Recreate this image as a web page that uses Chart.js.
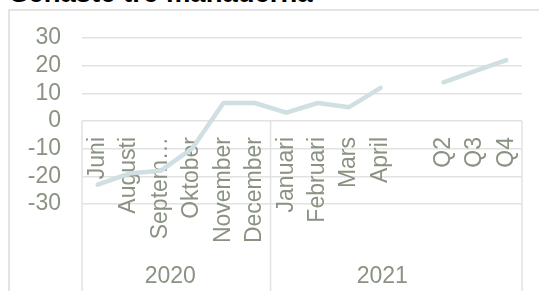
<!DOCTYPE html>
<html>
<head>
<meta charset="utf-8">
<script src="https://cdn.jsdelivr.net/npm/chart.js@4.4.1/dist/chart.umd.min.js"></script>
<style>
  html, body { margin: 0; padding: 0; background: #fff; }
  body { width: 539px; height: 291px; overflow: hidden; position: relative; }
  #frame { position: absolute; left: 8px; top: 9px; width: 700px; height: 400px; border: 2px solid #e4e4e4; }
  #title { position: absolute; left: 10px; top: -21px; font: bold 27.5px 'Liberation Sans', Arial, sans-serif; line-height: 27px; color: #000; white-space: nowrap; }
  #wrap { position: absolute; left: 0; top: 0; width: 539px; height: 291px; }
</style>
</head>
<body>
<div id="frame"></div>
<div id="title">Senaste tre månaderna</div>
<div id="wrap"><canvas id="chart" width="539" height="291"></canvas></div>
<script>
// categories (empty slot between April and Q2 keeps the gap in the line)
var months = ['Juni', 'Augusti', 'Septem…', 'Oktober', 'November', 'December',
              'Januari', 'Februari', 'Mars', 'April', '', 'Q2', 'Q3', 'Q4'];
var values = [-23, -19, -18, -10, 6.5, 6.5, 3, 6.5, 5, 12, null, 14, 18, 22];
var years = ['2020', '2021'];
var yearSizes = [6, 8];
var yTicks = [30, 20, 10, 0, -10, -20, -30];

var textColor = '#8a9382';
var gridColor = '#e2e2e2';
var fontFamily = "'Liberation Sans', Arial, sans-serif";

// draws the year groups under the axis with their separator lines
var yearGroups = {
    id: 'yearGroups',
    afterDraw: function(chart) {
        var ctx = chart.ctx;
        var xs = chart.scales.x;
        var area = chart.chartArea;
        var y0 = chart.scales.y.getPixelForValue(0);
        var bottom = chart.height;
        var edges = [area.left];
        var idx = 0;
        yearSizes.forEach(function(n) {
            idx += n;
            if (idx < months.length) {
                edges.push((xs.getPixelForValue(idx - 1) + xs.getPixelForValue(idx)) / 2);
            } else {
                edges.push(area.right);
            }
        });
        ctx.save();
        ctx.strokeStyle = gridColor;
        ctx.lineWidth = 1.5;
        edges.forEach(function(x) {
            ctx.beginPath();
            ctx.moveTo(x, y0);
            ctx.lineTo(x, bottom);
            ctx.stroke();
        });
        ctx.fillStyle = textColor;
        ctx.font = '23px ' + fontFamily;
        ctx.textAlign = 'center';
        ctx.textBaseline = 'middle';
        var shift = [-6, -14]; // Excel places the year text a bit left of centre
        years.forEach(function(label, i) {
            ctx.fillText(label, (edges[i] + edges[i + 1]) / 2 + shift[i], 277);
        });
        ctx.restore();
    }
};

var ctx = document.getElementById('chart').getContext('2d');
var chart = new Chart(ctx, {
    type: 'line',
    data: {
        labels: months,
        datasets: [{
            data: values,
            borderColor: '#cfdfe2',
            borderWidth: 4.5,
            borderCapStyle: 'round',
            borderJoinStyle: 'round',
            pointRadius: 0,
            tension: 0,
            spanGaps: false,
            fill: false
        }]
    },
    options: {
        responsive: false,
        maintainAspectRatio: false,
        animation: false,
        layout: { padding: { left: 10, right: 17, top: 38, bottom: 87 } },
        plugins: {
            legend: { display: false },
            tooltip: { enabled: false }
        },
        scales: {
            x: {
                position: { y: 0 },
                offset: true,
                afterFit: function(scale) { scale.paddingLeft = 0; scale.paddingRight = 0; },
                grid: { display: false, offset: true },
                border: { display: false },
                ticks: {
                    color: textColor,
                    font: { family: fontFamily, size: 23 },
                    minRotation: 90,
                    maxRotation: 90,
                    autoSkip: false,
                    padding: 8
                }
            },
            y: {
                min: -30,
                max: 30,
                afterFit: function(scale) { scale.width = 72; },
                afterBuildTicks: function(scale) {
                    scale.ticks = yTicks.map(function(v) { return { value: v }; });
                },
                grid: { color: gridColor, lineWidth: 1.5, drawTicks: false },
                border: { display: false },
                ticks: {
                    color: textColor,
                    font: { family: fontFamily, size: 23 },
                    autoSkip: false,
                    padding: 21
                }
            }
        }
    },
    plugins: [yearGroups]
});
</script>
</body>
</html>
